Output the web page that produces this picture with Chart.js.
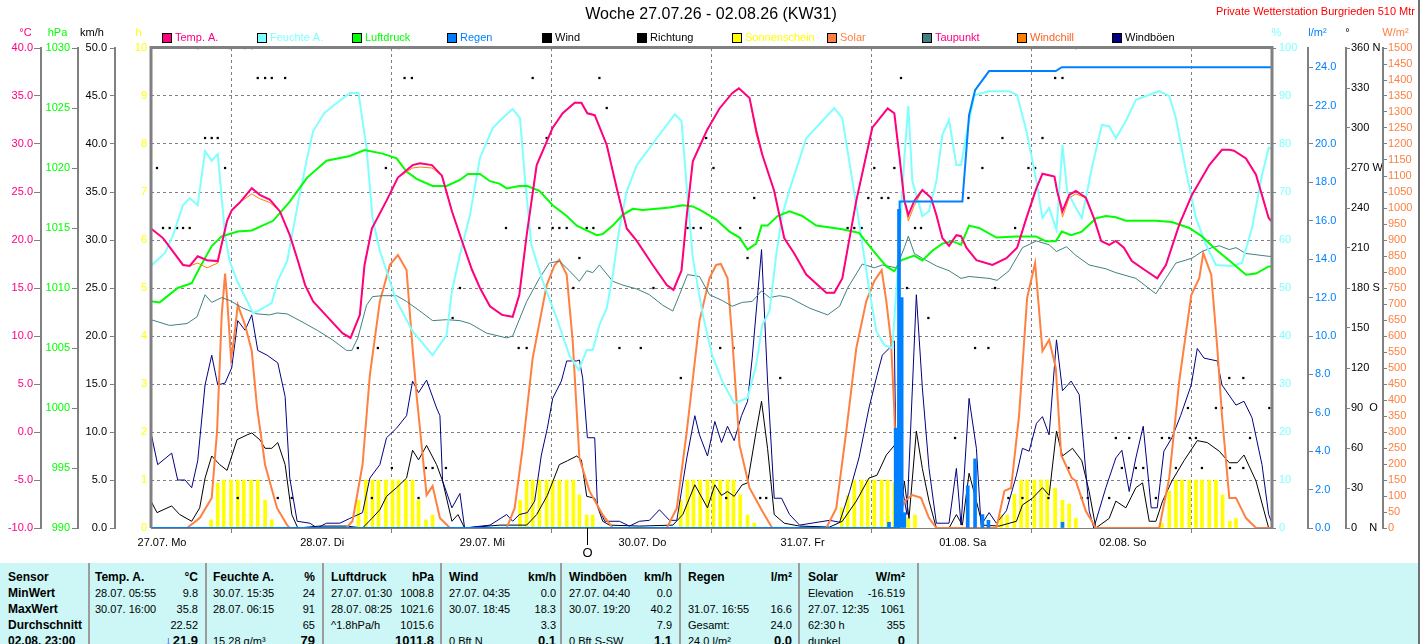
<!DOCTYPE html>
<html>
<head>
<meta charset="utf-8">
<title>Woche 27.07.26 - 02.08.26 (KW31)</title>
<script src="https://cdn.jsdelivr.net/npm/chart.js@4.4.1/dist/chart.umd.min.js"></script>
<style>
  body { margin: 0; background: #fff; overflow: hidden; font-family: "Liberation Sans", Arial, sans-serif; }
  #wrap { position: relative; width: 1427px; height: 644px; }
  #c { position: absolute; left: 0; top: 0; }
  #edge { position: absolute; left: 1418px; top: 0; width: 2px; height: 644px; background: #707070; }
  #tbl { position: absolute; left: 0; top: 563px; width: 1418px; height: 90px; background: #ccf7f6; }
  .sep { position: absolute; top: 0; width: 2px; height: 90px; background: #9c9c9c; }
  .cell { position: absolute; height: 16px; line-height: 16px; font-size: 11px; white-space: pre; color: #000; }
  .b { font-weight: bold; font-size: 12px; }
  .now { font-weight: bold; font-size: 13px; }
</style>
</head>
<body>
<div id="wrap">
  <canvas id="c" width="1427" height="560"></canvas>
  <div id="tbl"></div>
  <div id="edge"></div>
</div>
<script>
// ---- data (x = hours since 27.07. 00:00) ----
const dayLabels = ['27.07. Mo', '28.07. Di', '29.07. Mi', '30.07. Do', '31.07. Fr', '01.08. Sa', '02.08. So'];

const tempT = [0,1.8,4.8,5.8,7.0,8.4,10.0,11.4,12.1,13.3,15.1,16.3,17.8,19.3,20.8,21.9,23.1,24.3,26.3,28.7,
  29.9,31.3,32.0,33.1,35.3,37.0,39.2,40.3,42.1,43.6,45.1,46.6,48.1,49.3,50.8,52.6,54.2,55.2,56.3,57.8,
  60.2,61.7,63.5,64.5,65.4,66.5,68.3,69.8,71.3,72.8,75.2,77.3,78.3,79.5,80.3,81.2,83.3,85.2,87.1,88.1,
  89.7,90.7,91.6,93.4,94.9,96.4,98.2,101.2,102.4,103.6,105.7,108.1,110.4,111.4,112.2,112.9,113.5,114.4,115.6,116.9,
  117.7,118.6,119.6,120.7,121.4,122.2,123.7,126.1,128.2,129.8,131.2,132.7,133.6,135.4,135.8,136.6,137.6,138.6,140.1,141.3,
  142.4,143.6,144.6,145.8,147.0,149.1,150.8,152.1,154.1,156.0,158.6,160.5,161.6,162.3,164.1,165.6,167.5,168];
const tempV = [21.2,20.2,17.4,17.3,18.3,17.9,17.8,22.0,23.1,23.9,25.4,24.7,24.2,23.0,20.5,18.1,15.3,13.6,12.1,10.3,
  9.8,12.2,17.4,21.2,24.1,26.5,27.8,28.0,27.8,26.7,23.0,19.9,16.9,15.0,13.1,12.2,12.0,14.3,20.5,27.8,
  31.7,33.2,34.3,34.3,33.2,33.0,29.9,25.4,21.2,19.9,17.4,15.3,14.8,16.8,22.6,28.2,31.4,33.7,35.3,35.8,
  34.8,31.4,28.9,25.1,20.2,18.6,16.4,14.5,14.5,16.0,24.1,31.7,33.7,33.2,28.5,24.1,22.6,24.1,25.2,24.4,
  22.6,20.2,19.4,20.5,20.4,19.2,17.9,17.4,18.1,19.2,22.3,25.4,26.9,26.6,25.1,23.0,24.7,25.1,24.4,22.3,
  19.9,19.5,19.9,19.2,17.8,16.8,16.0,17.4,21.6,24.7,27.8,29.4,29.4,29.3,28.5,26.8,22.3,21.9];
const chillV = [21.2,20.2,17.4,17.3,17.6,17.1,17.6,22.0,23.1,23.9,24.8,24.3,23.9,23.0,20.5,18.1,15.3,13.6,12.1,10.3,
  9.8,12.2,17.4,21.2,24.1,26.5,27.5,27.6,27.5,26.7,23.0,19.9,16.9,15.0,13.1,12.2,12.0,14.3,20.5,27.8,
  31.7,33.2,34.3,34.3,33.2,33.0,29.9,25.4,21.2,19.9,17.4,15.3,14.8,16.8,22.6,28.2,31.4,33.7,35.3,35.8,
  34.8,31.0,28.9,25.1,20.2,18.6,16.4,14.5,14.5,16.0,24.1,31.7,33.7,33.2,28.5,24.1,22.0,23.6,25.2,24.4,
  22.6,20.2,19.4,20.5,20.4,19.2,17.9,17.4,18.1,19.2,22.3,25.4,26.9,26.6,25.1,22.4,24.4,24.8,24.4,22.3,
  19.9,19.5,19.9,19.2,17.8,16.8,16.0,17.4,21.6,24.7,27.8,29.4,29.4,29.3,28.5,26.8,22.3,21.9];

const humT = [0,2.1,3.3,4.8,5.8,7.0,8.1,9.1,10.0,11.1,11.8,12.9,14.4,15.3,16.3,18.1,19.0,20.4,21.9,23.4,
  24.3,26.0,27.8,29.8,31.1,32.3,33.2,34.3,36.8,39.2,42.2,44.3,45.1,46.3,47.8,49.3,51.2,52.7,54.2,55.3,
  56.0,57.0,58.7,60.8,62.7,64.1,65.3,66.2,67.2,68.3,69.2,70.2,71.3,72.8,75.8,78.5,79.5,80.3,81.2,82.7,
  84.1,85.6,87.4,89.4,90.7,91.6,92.7,93.7,94.6,95.7,98.2,100.6,102.4,103.6,105.7,107.6,108.7,109.9,111.1,111.8,
  112.9,113.5,114.1,115.6,116.6,117.7,118.6,119.6,120.7,121.4,122.3,123.4,125.6,128.6,129.8,131.2,132.7,133.6,134.6,135.7,
  136.6,137.3,138.6,139.5,141.0,142.5,143.6,144.6,146.1,147.6,151.1,152.6,153.6,155.1,156.6,158.1,159.6,162.0,163.5,165.0,
  166.5,167.5,168];
const humV = [54.6,57.3,61.0,67.3,68.7,67.3,78.5,76.5,77.9,61.0,55.6,51.5,47.3,44.8,45.4,46.9,51.5,55.6,66.7,77.1,
  82.7,86.5,88.5,90.6,90.6,79.2,64.6,57.7,47.3,41.0,36.0,40.2,49.4,56.9,65.2,77.1,83.3,85.4,87.3,85.4,
  73.5,59.0,51.5,43.7,36.0,32.9,37.1,37.1,42.3,45.8,52.7,62.5,70.2,75.6,81.2,86.2,84.8,70.8,56.2,44.4,
  36.0,30.6,26.0,27.1,34.0,42.3,45.2,56.9,65.2,70.5,81.2,84.8,87.5,85.4,67.3,50.0,41.0,38.1,37.5,51.5,
  77.1,87.9,72.3,65.0,66.0,72.3,81.9,85.0,75.6,75.6,82.7,90.2,91.0,91.0,90.2,82.7,72.3,64.6,66.7,62.1,
  79.8,70.2,66.7,64.6,75.0,84.0,83.7,81.2,84.8,89.2,91.0,90.0,85.4,74.4,64.6,59.0,54.8,54.6,55.2,62.5,
  73.5,79.2,79.0];

const presT = [0,1.3,4.0,6.1,7.3,9.1,10.6,13.0,15.1,18.3,20.8,23.4,26.3,29.8,32.0,34.7,36.8,38.3,39.8,42.2,
  44.3,46.3,47.5,49.3,50.8,52.2,53.3,55.2,56.4,58.2,60.2,62.3,63.8,65.3,66.8,67.7,69.2,70.7,72.2,73.7,
  75.8,77.7,79.7,81.2,82.6,84.7,86.7,88.2,89.4,90.7,91.5,92.4,93.9,95.7,97.6,99.7,103.6,106.1,108.1,110.2,
  111.4,112.4,114.4,115.6,117.1,118.6,120.1,121.4,122.6,124.1,126.7,129.7,132.6,134.1,135.6,136.5,137.9,139.5,141.6,143.1,
  144.6,146.1,150.6,153.0,155.6,157.5,159.6,162.0,164.1,165.6,167.5,168];
const presV = [1008.9,1008.8,1010.0,1010.4,1011.7,1013.5,1014.3,1014.7,1014.8,1015.6,1017.2,1019.2,1020.6,1021.0,1021.5,1021.2,1020.8,1019.7,1019.1,1018.5,
  1018.5,1019.0,1019.5,1019.5,1018.9,1018.7,1018.3,1018.5,1018.5,1018.1,1016.9,1016.0,1015.2,1014.8,1014.4,1014.5,1015.2,1016.1,1016.6,1016.5,
  1016.6,1016.7,1016.9,1016.8,1016.4,1015.7,1014.7,1014.2,1013.2,1013.7,1015.2,1015.2,1016.0,1016.4,1016.0,1015.2,1014.9,1014.6,1013.2,1011.8,
  1011.4,1012.3,1012.7,1012.3,1013.1,1013.7,1013.9,1013.6,1015.2,1015.0,1014.2,1014.3,1014.3,1013.9,1013.9,1014.7,1014.4,1014.7,1015.8,1016.0,
  1015.9,1015.6,1015.6,1015.5,1015.0,1014.3,1013.2,1012.1,1011.1,1011.2,1011.8,1011.8];

const dewT = [0,2.8,5.4,6.9,8.1,9.1,10.6,11.8,13.8,15.9,17.8,18.9,20.4,22.3,24.9,27.2,29.3,30.1,31.0,32.3,
  33.2,34.7,36.8,38.3,40.3,42.2,44.3,46.3,47.8,50.3,53.3,54.2,56.3,58.2,59.7,61.2,62.7,64.2,65.3,66.2,
  67.2,69.2,70.7,72.8,74.7,76.7,78.2,79.2,80.4,82.2,83.7,85.6,87.1,88.6,90.1,91.5,92.7,94.2,95.7,98.7,
  101.4,103.2,104.4,106.6,108.4,109.6,111.7,112.9,113.5,114.4,115.6,117.7,119.6,121.4,122.6,125.6,126.8,128.6,130.6,132.7,
  134.6,135.7,137.2,138.6,140.6,143.1,144.6,147.6,150.6,152.1,153.6,156.0,157.5,159.0,160.1,161.6,162.6,164.1,167.5,168];
const dewV = [11.7,11.1,11.3,12.0,14.3,13.5,14.0,13.7,12.9,12.3,12.2,12.4,12.3,11.6,10.6,9.6,8.5,8.5,9.8,13.2,
  14.1,14.2,14.2,13.6,12.6,11.6,11.7,11.6,11.3,10.3,9.8,10.0,13.6,16.0,17.6,17.8,16.8,15.7,16.8,16.6,
  17.4,15.7,15.3,14.9,14.3,13.2,12.6,14.3,16.4,16.2,14.3,13.7,13.1,13.5,13.6,14.7,14.0,14.2,14.0,12.9,
  12.2,13.1,15.0,17.5,17.1,17.4,17.1,19.2,20.4,18.6,18.1,17.3,16.8,16.0,16.2,16.0,15.8,16.8,19.2,19.9,
  19.5,18.8,19.3,18.4,17.4,17.0,16.6,16.0,14.4,16.0,17.6,18.1,18.8,19.2,19.4,19.0,19.2,18.6,18.3,18.3];

const solarT = [0,5.4,7.3,9.1,9.9,10.6,11.1,11.4,12.0,12.4,13.0,14.1,15.1,15.9,17.1,18.9,20.4,20.8,
  29.3,30.2,31.7,32.8,34.3,35.8,37.0,38.3,39.2,39.8,40.6,41.3,42.2,43.3,44.8,
  53.3,54.5,55.7,57.2,59.3,60.5,61.2,62.3,63.2,64.2,65.7,67.7,69.2,
  77.3,78.8,80.3,82.2,83.7,84.7,85.4,86.4,87.1,88.2,89.7,91.6,93.1,
  101.2,102.7,104.2,105.7,107.2,108.4,109.5,110.2,110.9,111.4,111.9,112.9,114.1,115.4,116.6,117.7,
  126.7,127.9,128.9,130.1,131.3,132.5,133.6,134.6,135.6,136.4,138.0,138.6,140.1,141.6,
  151.1,152.6,154.1,155.9,157.1,157.7,158.9,159.8,160.5,161.6,162.6,164.1,165.6,168];
const solarV = [0,0,31,94,303,666,795,719,531,584,697,634,553,375,197,62,9,0,
  0,22,197,478,709,822,853,806,562,416,250,103,131,31,0,
  0,62,250,531,759,822,838,791,584,219,116,41,0,
  0,62,303,647,781,822,825,781,594,259,125,53,0,
  0,62,303,562,709,772,806,709,584,366,20,84,103,94,31,0,
  0,116,125,353,719,828,553,588,500,228,156,147,53,0,
  0,156,459,728,781,859,791,562,353,94,94,31,0,0];

const windT = [0,0.9,3.1,4.3,6.1,7.3,8.1,9.1,10.3,11.4,12.9,14.4,15.1,16.3,17.1,18.1,19.0,20.1,21.1,22.0,
  25.3,29.3,31.7,33.1,34.3,35.3,36.8,38.3,39.2,40.1,41.3,42.8,43.7,45.1,46.0,47.0,52.3,56.3,57.8,59.4,
  61.2,62.4,63.8,64.5,65.3,66.5,67.7,68.7,73.2,78.2,79.7,81.5,83.4,84.5,85.5,86.4,87.4,88.6,89.4,90.7,
  91.5,92.4,93.4,94.9,97.2,101.7,103.6,105.7,107.6,108.8,110.2,111.4,112.1,112.9,113.6,114.7,115.6,116.6,117.7,119.6,
  120.7,121.6,122.6,123.7,124.6,127.1,129.7,130.6,132.1,133.6,134.6,135.7,136.6,138.1,139.5,140.6,141.6,143.6,144.6,146.1,
  147.6,148.6,149.6,150.6,151.6,153.0,154.8,156.8,158.3,160.1,161.6,162.8,163.8,165.6,166.8,167.5,168];
const windV = [2.8,1.6,2.3,1.4,0.7,2.1,5.2,7.5,6.6,6.0,9.2,9.7,9.9,9.2,8.3,8.3,8.9,6.6,1.4,0,
  0.2,0.2,0,1.0,1.9,3.3,4.2,5.2,8.1,7.1,8.6,6.6,4.9,0.7,1.4,0,0.3,0.3,1.4,3.4,
  6.6,7.0,7.5,7.1,3.3,3.1,0.7,0.3,0.2,0.3,1.4,4.5,2.1,4.5,3.4,3.8,3.3,4.5,4.7,10.1,
  13.2,8.3,1.4,0.5,0.2,0.1,0.7,2.8,5.2,5.5,7.6,8.6,0,4.9,1.0,10.1,6.2,2.8,0,0,
  1.4,0.3,5.7,2.8,0.3,0.2,0.7,2.4,3.1,4.2,3.4,10.1,7.5,8.3,7.0,3.8,0,1.0,2.8,2.1,
  4.2,4.7,0.7,0.7,2.8,4.9,7.0,9.1,8.9,8.0,6.8,6.8,7.6,4.9,1.8,0,0];

const gustT = [0,1.0,3.1,4.0,5.1,6.1,7.0,8.1,9.1,10.0,11.1,12.1,13.0,14.1,15.1,16.0,17.4,19.0,20.1,20.8,
  21.9,23.8,24.9,26.3,28.3,29.8,31.7,32.8,34.3,35.3,36.8,38.3,39.2,40.1,41.3,42.8,43.3,43.7,45.1,46.3,
  47.0,50.8,53.3,54.2,55.2,56.4,57.5,58.5,59.4,60.2,61.5,62.3,63.8,64.2,64.7,65.4,66.5,66.9,68.0,70.2,
  71.7,73.2,74.7,76.2,77.7,78.8,80.3,81.5,82.2,83.4,84.5,85.5,86.4,87.4,88.5,89.4,90.1,91.5,92.4,93.4,
  94.5,95.7,97.2,101.7,103.2,104.7,106.1,107.6,108.8,109.6,110.6,111.4,111.8,112.4,113.3,114.7,115.6,116.6,117.7,119.6,
  120.7,121.4,122.6,123.7,124.4,125.6,126.7,128.2,129.7,130.6,131.6,132.7,133.6,134.6,135.7,136.6,137.9,139.1,139.8,140.6,
  141.3,143.1,144.6,145.5,146.6,147.6,148.7,149.9,150.8,151.8,153.0,154.3,155.9,156.8,157.8,159.8,160.5,162.6,163.8,165.0,
  166.5,167.5,168];
const gustV = [9.9,6.6,7.8,5.0,5.0,4.2,7.0,14.9,18.0,14.9,15.1,16.7,21.6,20.6,22.2,18.5,18.0,17.2,13.7,5.2,
  0.7,0.5,0,0.5,0.5,1.0,1.6,5.2,6.6,9.4,10.4,11.7,15.3,14.1,15.4,12.5,11.7,4.9,2.1,3.6,
  0,0.3,1.4,0.7,1.4,1.6,2.8,7.6,10.4,13.5,15.3,17.4,17.4,17.5,15.6,9.4,9.4,2.4,0.7,0.7,
  0.2,0.7,0.8,1.9,0.8,0.8,7.3,11.7,9.7,7.5,11.1,8.9,10.6,9.1,11.7,13.2,17.7,29.0,15.3,3.1,
  3.1,1.4,0.3,0.8,0.6,3.8,7.3,12.5,15.9,18.0,18.7,19.5,0,4.9,1.4,24.3,14.6,6.2,0.5,0.5,
  6.2,0.3,13.5,8.3,0.3,1.6,0.5,1.8,5.5,8.3,8.0,10.9,11.6,9.7,19.6,14.3,15.3,13.9,8.3,1.8,
  0,4.2,7.3,8.1,3.8,7.3,10.6,2.1,2.1,8.0,9.4,11.7,14.9,18.7,17.7,17.4,14.9,12.8,13.2,11.5,
  6.6,1.4,0.5];

const rainT = [0, 111.9, 112.2, 121.6, 122.6, 123.5, 125.6, 135.6, 136.5, 168];
const rainV = [0, 0, 17.0, 17.0, 21.5, 22.8, 23.8, 23.8, 24.0, 24.0];
const rainBarT = [110.6, 111.6, 112.1, 112.5, 112.9, 122.4, 123.5, 124.6, 125.5, 136.6];
const rainBarV = [0.3, 5.2, 16.6, 12.0, 0.8, 2.2, 3.6, 0.7, 0.4, 0.3];

const dirT = [0.9,1.8,2.8,3.9,4.8,5.8,7.0,8.1,9.1,10.0,11.1,11.8,13.0,14.1,15.1,16.0,17.1,18.1,19.0,20.1,21.1,
  31.0,33.1,34.0,35.2,36.1,37.1,38.0,39.1,40.1,41.2,42.2,44.2,45.2,46.3,
  53.2,55.1,56.3,57.2,58.2,59.3,60.2,61.2,62.3,63.3,64.2,65.3,66.3,67.2,68.3,70.2,73.4,75.3,
  79.4,80.4,81.3,82.4,83.2,84.3,85.3,86.2,87.3,88.3,89.4,90.4,91.3,92.2,94.3,
  104.4,105.4,106.5,107.5,108.4,109.5,110.5,111.4,112.4,113.3,114.5,115.4,116.5,120.5,122.5,123.5,124.6,125.5,
  126.5,127.6,128.5,129.5,130.6,131.5,132.5,133.6,134.5,135.5,136.6,137.5,138.6,139.5,140.4,143.6,
  144.6,145.5,146.6,147.6,148.7,150.6,151.5,152.6,153.6,155.4,155.7,156.6,157.5,159.6,160.5,161.6,161.7,163.7,163.7,164.7,167.6];
const dirV = [270,225,225,225,225,225,360,292.5,292.5,292.5,270,360,22.5,360,360,337.5,337.5,337.5,22.5,337.5,22.5,
  135,22.5,135,270,45,360,337.5,337.5,22.5,45,45,45,157.5,180,
  225,135,135,337.5,225,292.5,225,225,225,180,202.5,225,225,337.5,315,135,135,180,
  112.5,225,225,225,292.5,270,135,22.5,135,225,202.5,247.5,22.5,22.5,112.5,
  225,225,225,247.5,270,247.5,247.5,270,337.5,180,225,225,157.5,67.5,247.5,135,270,135,
  180,292.5,22.5,225,22.5,270,270,292.5,22.5,337.5,337.5,45,360,22.5,22.5,22.5,
  67.5,45,67.5,45,45,22.5,67.5,67.5,45,90,67.5,67.5,45,90,90,112.5,45,112.5,45,67.5,90];

const sunT = [9.0,10.0,10.9,12.0,13.0,13.9,15.0,16.0,17.1,18.1,
  31.1,32.2,33.2,34.1,35.2,36.2,37.1,38.2,39.2,40.1,41.2,42.2,
  55.3,56.3,57.2,58.2,59.3,60.2,61.2,62.3,63.3,64.2,65.3,66.2,
  79.4,80.4,81.3,82.3,83.4,84.3,85.3,86.4,87.3,88.3,89.4,90.4,
  103.5,104.4,105.4,106.5,107.4,108.4,109.5,110.4,111.4,112.4,113.5,114.5,
  127.4,128.3,129.4,130.4,131.3,132.4,133.4,134.3,135.5,136.6,137.6,138.6,
  151.5,152.6,153.6,154.5,155.6,156.6,157.5,158.6,159.6,160.6,161.7,162.6];
const sunV = [0.17,0.94,1,1,1,1,1,1,0.58,0.17,
  0.58,1,1,1,1,1,1,1,1,0.58,0.17,0.27,
  0.58,1,1,1,1,1,1,1,1,0.69,0.27,0.27,
  0.58,1,1,1,1,1,1,1,1,0.69,0.27,0.1,
  0.42,0.67,1,1,1,1,1,1,0.94,0.1,0.2,0.27,
  0.27,0.27,0.7,1,1,1,1,1,0.83,0.58,0.5,0.2,
  0.1,0.77,1,1,1,1,1,1,1,0.69,0.14,0.2];

const moonH = 65.3;

// legend: label, box colour, text colour
const legendItems = [
  ['Temp. A.', '#ff0080', '#ff0080'], ['Feuchte A.', '#80ffff', '#80ffff'], ['Luftdruck', '#00ff00', '#00ff00'],
  ['Regen', '#0080ff', '#0080ff'], ['Wind', '#000000', '#000000'], ['Richtung', '#000000', '#000000'],
  ['Sonnenschein', '#ffff00', '#ffff00'], ['Solar', '#ff8040', '#ff8040'], ['Taupunkt', '#408080', '#ff0080'],
  ['Windchill', '#ff8000', '#ff6020'], ['Windböen', '#000080', '#000000']
];
// unit captions above the axes: scale id, text, offset from scale left, colour
const unitTitles = [
  ['yT', '°C', 25.5, '#ff0080'], ['yP', 'hPa', 16.5, '#00ff00'], ['yW', 'km/h', 14, '#000'], ['yS', 'h', 23.5, '#ffff00'],
  ['yH', '%', 4.5, '#80ffff'], ['yR', 'l/m²', 9.5, '#0080ff'], ['yD', '°', 1.5, '#000'], ['yL', 'W/m²', 12.5, '#ff8040']
];

// statistics table
const tblRows = [
  [['Sensor',''],['Temp. A.','°C'],['Feuchte A.','%'],['Luftdruck','hPa'],['Wind','km/h'],['Windböen','km/h'],['Regen','l/m²'],['Solar','W/m²']],
  [['MinWert',''],['28.07. 05:55','9.8'],['30.07. 15:35','24'],['27.07. 01:30','1008.8'],['27.07. 04:35','0.0'],['27.07. 04:40','0.0'],['',''],['Elevation','-16.519']],
  [['MaxWert',''],['30.07. 16:00','35.8'],['28.07. 06:15','91'],['28.07. 08:25','1021.6'],['30.07. 18:45','18.3'],['30.07. 19:20','40.2'],['31.07. 16:55','16.6'],['27.07. 12:35','1061']],
  [['Durchschnitt',''],['','22.52'],['','65'],['^1.8hPa/h','1015.6'],['','3.3'],['','7.9'],['Gesamt:','24.0'],['62:30 h','355']],
  [['02.08. 23:00',''],['↓','21.9'],['15.28 g/m³','79'],['','1011.8'],['0 Bft N','0.1'],['0 Bft S-SW','1.1'],['24.0 l/m²','0.0'],['dunkel','0']]
];
const colLeft = [8, 95, 213, 331, 449, 569, 688, 808];
const colRight = [0, 198, 315, 434, 556, 672, 792, 905];
const colSeps = [88, 205, 322, 440, 560, 679, 798, 917];

// ---- table ----
const tbl = document.getElementById('tbl');
colSeps.forEach(x => {
  const s = document.createElement('div');
  s.className = 'sep'; s.style.left = x + 'px';
  tbl.appendChild(s);
});
tblRows.forEach((row, r) => {
  row.forEach(([lt, rt], c) => {
    const top = 6 + r * 16;
    if (lt) {
      const d = document.createElement('div');
      d.className = 'cell' + (r === 0 || c === 0 ? ' b' : '');
      d.style.left = colLeft[c] + 'px'; d.style.top = top + 'px';
      d.textContent = lt;
      if (lt === '↓') { d.style.left = (colRight[c] - 33) + 'px'; d.style.color = '#0000ff'; d.className = 'cell now'; }
      tbl.appendChild(d);
    }
    if (rt) {
      const d = document.createElement('div');
      d.className = 'cell' + (r === 0 ? ' b' : r === 4 ? ' now' : '');
      d.style.right = (1418 - colRight[c]) + 'px'; d.style.top = top + 'px';
      d.textContent = rt;
      tbl.appendChild(d);
    }
  });
});

// ---- chart ----
const FONT = '"Liberation Sans", Arial, sans-serif';
Chart.defaults.font.family = FONT;
Chart.defaults.font.size = 11;

const pts = (t, v) => t.map((x, i) => ({x: x, y: v[i]}));
const line = (label, t, v, color, width, axis) => ({
  type: 'line', label: label, data: pts(t, v), borderColor: color, backgroundColor: color,
  borderWidth: width, pointRadius: 0, tension: 0, fill: false, yAxisID: axis
});
const fixW = w => s => { s.width = w; };

function yAxis(pos, weight, width, min, max, step, color, tl, pad, border, fmt) {
  return {
    type: 'linear', position: pos, weight: weight, min: min, max: max,
    afterFit: fixW(width),
    ticks: { stepSize: step, autoSkip: false, color: color, padding: pad, includeBounds: false,
             font: { size: 11 }, callback: fmt },
    grid: { drawOnChartArea: false, drawTicks: tl > 0, tickLength: tl, tickColor: '#808080', tickWidth: 1 },
    border: { display: border, color: '#808080', width: 2 }
  };
}
const compass = { 0: '0    N', 90: '90  O', 180: '180 S', 270: '270 W', 360: '360 N' };

const decor = {
  id: 'decor',
  beforeDatasetsDraw(chart) {
    const { ctx, chartArea: a } = chart;
    ctx.save();
    ctx.strokeStyle = '#808080'; ctx.lineWidth = 1;
    ctx.beginPath(); ctx.moveTo(a.left, a.bottom + 0.5); ctx.lineTo(a.right, a.bottom + 0.5); ctx.stroke();
    ctx.restore();
  },
  afterDatasetsDraw(chart) {
    const { ctx, chartArea: a } = chart;
    ctx.save();
    ctx.strokeStyle = '#808080'; ctx.lineWidth = 3;
    ctx.beginPath();
    ctx.moveTo(a.left, a.bottom); ctx.lineTo(a.left, a.top - 0.5);
    ctx.lineTo(a.right, a.top - 0.5); ctx.lineTo(a.right, a.bottom);
    ctx.stroke();
    ctx.restore();
  },
  afterDraw(chart) {
    const { ctx, chartArea: a, scales } = chart;
    ctx.save();
    ctx.textBaseline = 'middle';
    // title
    ctx.font = '16px ' + FONT; ctx.fillStyle = '#000'; ctx.textAlign = 'center';
    ctx.fillText('Woche 27.07.26 - 02.08.26 (KW31)', 711, 15);
    ctx.font = '11px ' + FONT; ctx.fillStyle = '#ff0000'; ctx.textAlign = 'right';
    ctx.fillText('Private Wetterstation Burgrieden 510 Mtr', 1415, 12);
    // unit captions
    ctx.textAlign = 'center';
    unitTitles.forEach(([id, txt, off, col]) => {
      ctx.fillStyle = col;
      ctx.fillText(txt, scales[id].left + off, 33);
    });
    // legend
    ctx.textAlign = 'left';
    legendItems.forEach(([txt, box, col], i) => {
      const x = a.left + 11 + i * 95;
      ctx.fillStyle = box; ctx.fillRect(x, 33, 10, 10);
      ctx.strokeStyle = '#000'; ctx.lineWidth = 1; ctx.strokeRect(x + 0.5, 33.5, 9, 9);
      ctx.fillStyle = col; ctx.fillText(txt, x + 13, 38);
    });
    // moon phase marker
    const mx = Math.round(scales.x.getPixelForValue(moonH)) + 0.5;
    ctx.strokeStyle = '#000'; ctx.lineWidth = 1;
    ctx.beginPath(); ctx.moveTo(mx, a.bottom); ctx.lineTo(mx, a.bottom + 17); ctx.stroke();
    ctx.fillStyle = '#000'; ctx.textAlign = 'center'; ctx.font = '13px ' + FONT;
    ctx.fillText('O', mx, a.bottom + 25);
    ctx.restore();
  }
};

new Chart(document.getElementById('c'), {
  type: 'line',
  data: {
    datasets: [
      line('Regen', rainT, rainV, '#0080ff', 2, 'yR'),
      { type: 'bar', label: 'Regen', data: pts(rainBarT, rainBarV), backgroundColor: '#0080ff',
        barThickness: 3, grouped: false, yAxisID: 'yR' },
      line('Temp. A.', tempT, tempV, '#ff0080', 2, 'yT'),
      line('Windchill', tempT, chillV, '#ff8000', 1, 'yT'),
      line('Luftdruck', presT, presV, '#00ff00', 2, 'yP'),
      line('Feuchte A.', humT, humV, '#80ffff', 2, 'yH'),
      line('Taupunkt', dewT, dewV, '#408080', 1, 'yT'),
      line('Solar', solarT, solarV, '#ff8040', 2, 'yL'),
      line('Windböen', gustT, gustV, '#000080', 1, 'yW'),
      line('Wind', windT, windV, '#000000', 1, 'yW'),
      { type: 'line', label: 'Richtung', data: pts(dirT, dirV), showLine: false, pointStyle: 'rect',
        pointRadius: 1.6, pointBorderWidth: 0, pointBackgroundColor: '#000', borderColor: '#000', yAxisID: 'yD' },
      { type: 'bar', label: 'Sonnenschein', data: pts(sunT, sunV), backgroundColor: '#ffff00',
        barThickness: 3, grouped: false, yAxisID: 'yS' }
    ]
  },
  options: {
    responsive: false,
    devicePixelRatio: 1,
    animation: false,
    events: [],
    layout: { padding: { left: 0, right: 7, top: 48, bottom: 8 } },
    plugins: { legend: { display: false }, tooltip: { enabled: false }, title: { display: false } },
    scales: {
      x: {
        type: 'linear', min: 0, max: 168, offset: false,
        afterFit: s => { s.height = 24; },
        ticks: { stepSize: 24, autoSkip: false, maxRotation: 0, labelOffset: 11, padding: 3, color: '#000',
                 font: { size: 11 }, callback: v => dayLabels[v / 24] || '' },
        grid: { color: '#808080', lineWidth: 1, tickLength: 5, tickColor: '#808080' },
        border: { display: false, dash: [3, 3] }
      },
      yT: yAxis('left', 4, 41, -10, 40, 5, '#ff0080', 7, 1, true, v => v.toFixed(1)),
      yP: yAxis('left', 3, 37, 990, 1030, 5, '#00ff00', 6, 2, true, v => String(v)),
      yW: yAxis('left', 2, 37, 0, 50, 5, '#000000', 5, 3, true, v => v.toFixed(1)),
      yS: {
        type: 'linear', position: 'left', weight: 1, min: 0, max: 10,
        afterFit: fixW(36),
        ticks: { stepSize: 1, autoSkip: false, color: '#ffff00', padding: 4, font: { size: 11 } },
        grid: { color: '#808080', lineWidth: 1, drawTicks: false },
        border: { display: false, dash: [3, 3] }
      },
      yH: yAxis('right', 1, 36, 0, 100, 10, '#80ffff', 4, 3, false, v => String(v)),
      yR: yAxis('right', 2, 38, 0, 25, 2, '#0080ff', 5, 2, true, v => v.toFixed(1)),
      yD: yAxis('right', 3, 37, 0, 360, 30, '#000000', 4, 1, true, v => compass[v] || String(v)),
      yL: yAxis('right', 4, 37, 0, 1500, 50, '#ff8040', 4, 1, true, v => String(v))
    }
  },
  plugins: [decor]
});
</script>
</body>
</html>
